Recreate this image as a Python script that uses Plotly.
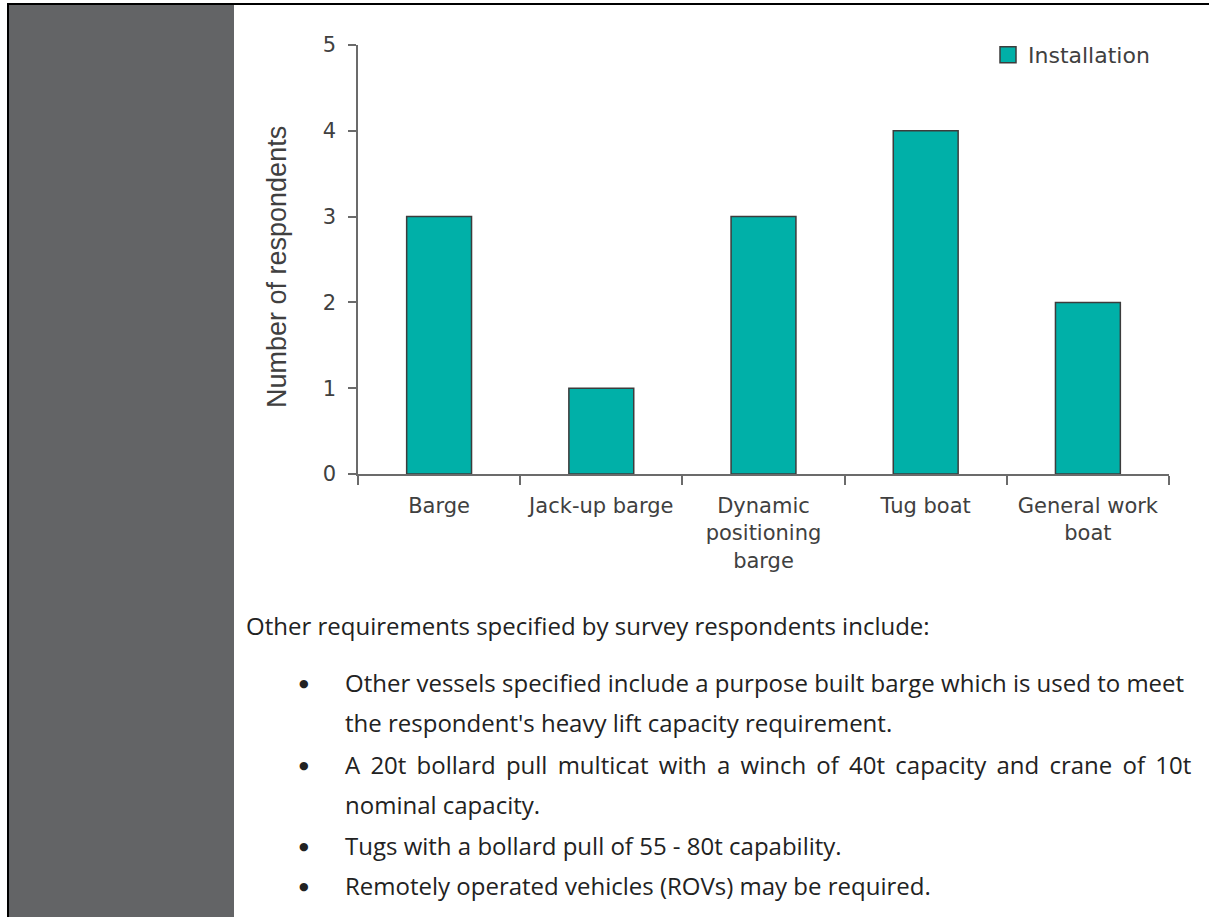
import plotly.graph_objects as go

# Survey results: vessels required for installation
categories = ["Barge", "Jack-up barge", "Dynamic<br>positioning<br>barge", "Tug boat", "General work<br>boat"]
installation = [3, 1, 3, 4, 2]
y_ticks = [0, 1, 2, 3, 4, 5]
series_name = "Installation"
y_title = "Number of respondents"

intro_line = "Other requirements specified by survey respondents include:"
bullets = [
    ["Other vessels specified include a purpose built barge which is used to meet",
     "the respondent's heavy lift capacity requirement."],
    ["A 20t bollard pull multicat with a winch of 40t capacity and crane of 10t",
     "nominal capacity."],
    ["Tugs with a bollard pull of 55 - 80t capability."],
    ["Remotely operated vehicles (ROVs) may be required."],
]
# lines set flush to the right margin (widened word gaps)
justified = {(1, 0)}

W, H = 1209, 917
TEAL = "#00B0A8"
OUTLINE = "#3c3c3c"
AXIS = "#6b6b6b"
LABEL = "#404040"
BODY = "#222222"
BODY_FONT = dict(family="Open Sans", size=24, color=BODY)


def fx(px):
    return px / W


def fy(py):
    return 1 - py / H


fig = go.Figure()
fig.add_trace(go.Bar(
    x=categories, y=installation, width=0.4,
    marker=dict(color=TEAL, line=dict(color=OUTLINE, width=1.5)),
    name=series_name, showlegend=False, legendgroup="inst",
))
# legend swatch for the series
fig.add_trace(go.Scatter(
    x=[None], y=[None], mode="markers", name=series_name, legendgroup="inst",
    marker=dict(symbol="square", size=16, color=TEAL, line=dict(color=OUTLINE, width=1.5)),
))

shapes = [
    # left sidebar and frame
    dict(type="rect", xref="paper", yref="paper", x0=fx(9), x1=fx(234), y0=0, y1=fy(5),
         fillcolor="#636466", line=dict(width=0), layer="below"),
    dict(type="rect", xref="paper", yref="paper", x0=fx(7), x1=1, y0=fy(5), y1=fy(3),
         fillcolor="#000000", line=dict(width=0)),
    dict(type="rect", xref="paper", yref="paper", x0=fx(7), x1=fx(9), y0=0, y1=fy(3),
         fillcolor="#000000", line=dict(width=0)),
]

annotations = [
    dict(text=y_title, textangle=-90, x=fx(277), y=fy(267), xref="paper", yref="paper",
         showarrow=False, xanchor="center", yanchor="middle",
         font=dict(family="Liberation Sans, Arial", size=27, color=LABEL)),
    dict(text=intro_line, x=fx(244), y=fy(625), xref="paper", yref="paper",
         showarrow=False, xanchor="left", yanchor="middle", font=BODY_FONT),
]

line_y = [[682, 722], [764, 804], [845], [885]]
for i, (item, ys) in enumerate(zip(bullets, line_y)):
    annotations.append(dict(text="●", x=fx(304), y=fy(ys[0] + 1), xref="paper", yref="paper",
                            showarrow=False, xanchor="center", yanchor="middle",
                            font=dict(family="DejaVu Sans", size=11, color=BODY)))
    for j, (text, yy) in enumerate(zip(item, ys)):
        if (i, j) in justified:
            text = text.replace(" ", " \u2009")
        annotations.append(dict(text=text, x=fx(343), y=fy(yy), xref="paper", yref="paper",
                                showarrow=False, xanchor="left", yanchor="middle",
                                font=BODY_FONT))

fig.update_layout(
    width=W, height=H, autosize=False,
    margin=dict(l=0, r=0, t=0, b=0, pad=0, autoexpand=False),
    paper_bgcolor="white", plot_bgcolor="white",
    showlegend=True,
    legend=dict(x=fx(988), y=fy(55), xanchor="left", yanchor="middle",
                font=dict(family="DejaVu Sans", size=22, color=LABEL),
                bgcolor="rgba(0,0,0,0)", itemclick=False, itemdoubleclick=False),
    shapes=shapes, annotations=annotations,
    xaxis=dict(domain=[fx(358), fx(1169)], type="category", range=[-0.5, 4.5],
               automargin=False,
               showline=True, linecolor=AXIS, linewidth=1.5,
               ticks="outside", tickson="boundaries", ticklen=9, tickwidth=1.5, tickcolor=AXIS,
               ticklabelstandoff=12,
               tickfont=dict(family="DejaVu Sans", size=21, color=LABEL),
               showgrid=False, zeroline=False, fixedrange=True),
    yaxis=dict(domain=[fy(474), fy(45)], range=[0, 5], tickvals=y_ticks,
               automargin=False,
               showline=True, linecolor=AXIS, linewidth=1.5,
               ticks="outside", ticklen=8, tickwidth=1.5, tickcolor=AXIS,
               ticklabelstandoff=8,
               tickfont=dict(family="DejaVu Sans", size=21, color=LABEL),
               showgrid=False, zeroline=False, fixedrange=True),
)

fig.write_html("out.html", config={"displayModeBar": False})
